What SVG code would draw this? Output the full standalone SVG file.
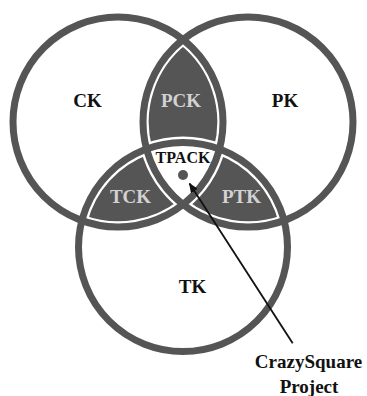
<svg xmlns="http://www.w3.org/2000/svg" width="367" height="396" viewBox="0 0 367 396">
  <defs>
    <style>
      .ring { fill: none; stroke: #555555; stroke-width: 7; }
      .lens { fill: #555555; stroke: #ffffff; stroke-width: 11.5; }
      .lbl { font-family: "Liberation Serif", "Times New Roman", serif; font-weight: bold; text-anchor: middle; }
      .dark { fill: #111111; font-size: 19px; }
      .light { fill: #d2d2d2; font-size: 19px; }
      .conn { stroke: #111111; stroke-width: 1.8; fill: none; }
    </style>
    <path id="pPCK" d="M183,39.5 A105,105 0 0 1 219.46,149.06 A104.5,104.5 0 0 0 146.54,149.06 A105,105 0 0 1 183,39.5 Z"/>
    <path id="pTCK" d="M81.89,220.6 A104.5,104.5 0 0 1 146.54,149.06 A105,105 0 0 0 183,204.5 A105,105 0 0 1 81.89,220.6 Z"/>
    <path id="pPTK" d="M284.11,220.6 A104.5,104.5 0 0 0 219.46,149.06 A105,105 0 0 1 183,204.5 A105,105 0 0 0 284.11,220.6 Z"/>
    <clipPath id="cPCK"><use href="#pPCK"/></clipPath>
    <clipPath id="cTCK"><use href="#pTCK"/></clipPath>
    <clipPath id="cPTK"><use href="#pPTK"/></clipPath>
    <marker id="arr" viewBox="0 0 10 8" refX="9" refY="4" markerWidth="10" markerHeight="8" markerUnits="userSpaceOnUse" orient="auto">
      <path d="M0,0 L10,4 L0,8 Z" fill="#111111"/>
    </marker>
  </defs>
  <rect width="367" height="396" fill="#ffffff"/>

  <g id="PCK">
    <use href="#pPCK" class="lens" clip-path="url(#cPCK)"/>
    <text class="lbl light" x="181" y="107">PCK</text>
  </g>
  <g id="TCK">
    <use href="#pTCK" class="lens" clip-path="url(#cTCK)"/>
    <text class="lbl light" x="130.5" y="203">TCK</text>
  </g>
  <g id="PTK">
    <use href="#pPTK" class="lens" clip-path="url(#cPTK)"/>
    <text class="lbl light" x="241.5" y="203">PTK</text>
  </g>

  <g id="CK">
    <circle class="ring" cx="118" cy="122" r="105"/>
    <text class="lbl dark" x="87.5" y="107">CK</text>
  </g>
  <g id="PK">
    <circle class="ring" cx="248" cy="122" r="105"/>
    <text class="lbl dark" x="285" y="107">PK</text>
  </g>
  <g id="TK">
    <circle class="ring" cx="183" cy="247" r="104.5"/>
    <text class="lbl dark" x="192.5" y="293">TK</text>
  </g>

  <g id="TPACK">
    <text class="lbl" x="183" y="163" font-size="16" fill="#111111">TPACK</text>
    <circle cx="183" cy="175" r="5" fill="#555555"/>
  </g>

  <g id="CrazySquare">
    <text class="lbl dark" x="308.5" y="368">CrazySquare</text>
    <text class="lbl dark" x="309" y="393">Project</text>
  </g>

  <g id="connectors">
    <line class="conn" x1="292.7" y1="343.3" x2="189.5" y2="183.5" marker-end="url(#arr)"/>
  </g>
</svg>
